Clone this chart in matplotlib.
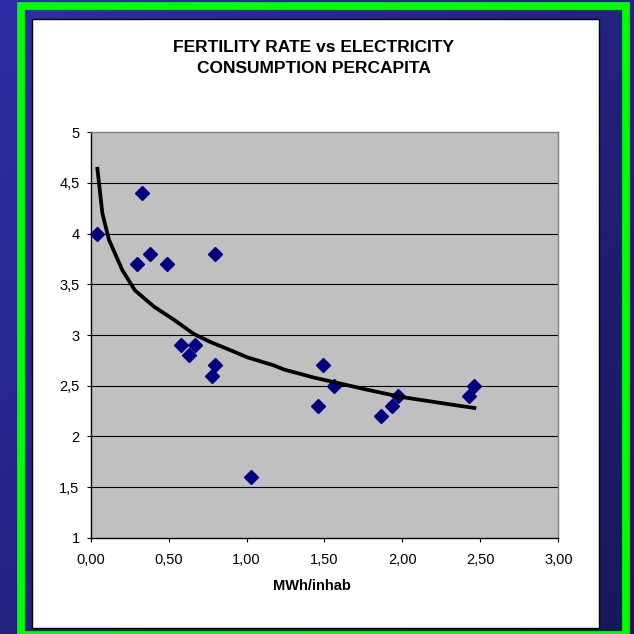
"""
Fertility rate vs electricity consumption per capita.
Run: python plot.py
Outputs: out.png
"""

import numpy as np
import matplotlib
matplotlib.use("Agg")
import matplotlib.pyplot as plt
from matplotlib.patches import Rectangle

# ---------------------------------------------------------------------------
# Data
# ---------------------------------------------------------------------------
mwh_per_inhab = [0.04, 0.30, 0.33, 0.38, 0.49, 0.58, 0.63, 0.67, 0.78, 0.80,
                 0.80, 1.03, 1.46, 1.49, 1.56, 1.86, 1.93, 1.97, 2.43, 2.46]
fertility = [4.0, 3.7, 4.4, 3.8, 3.7, 2.9, 2.8, 2.9, 2.6, 2.7,
             3.8, 1.6, 2.3, 2.7, 2.5, 2.2, 2.3, 2.4, 2.4, 2.5]

trend_x = [0.043, 0.075, 0.117, 0.203, 0.284, 0.406, 0.534, 0.662, 0.769, 0.897,
           1.004, 1.175, 1.239, 1.432, 1.603, 1.774, 1.987, 2.158, 2.329, 2.462]
trend_y = [4.64, 4.20, 3.94, 3.64, 3.44, 3.28, 3.15, 3.01, 2.93, 2.85,
           2.78, 2.70, 2.66, 2.58, 2.52, 2.46, 2.39, 2.35, 2.31, 2.28]

xticks = [0.0, 0.5, 1.0, 1.5, 2.0, 2.5, 3.0]
xtick_labels = ["0,00", "0,50", "1,00", "1,50", "2,00", "2,50", "3,00"]
yticks = [1, 1.5, 2, 2.5, 3, 3.5, 4, 4.5, 5]
ytick_labels = ["1", "1,5", "2", "2,5", "3", "3,5", "4", "4,5", "5"]

TITLE = "FERTILITY RATE vs ELECTRICITY\nCONSUMPTION PERCAPITA"
XLABEL = "MWh/inhab"

# ---------------------------------------------------------------------------
# Layout (pixels of a 634x634 canvas)
# ---------------------------------------------------------------------------
W = H = 634
plt.rcParams["font.family"] = ["Liberation Sans", "DejaVu Sans"]


def fx(px):
    return px / W


def fy(py):
    return 1 - py / H


fig = plt.figure(figsize=(W / 100, H / 100), dpi=100)

# --- blue gradient background ---
bg = fig.add_axes([0, 0, 1, 1], zorder=-10)
gx, gy = np.meshgrid(np.linspace(0, 1, 200), np.linspace(0, 1, 200))
t = (gx + gy) / 2
c0 = np.array([0x2E, 0x2E, 0xA8]) / 255
c1 = np.array([0x18, 0x18, 0x58]) / 255
grad = c0[None, None, :] * (1 - t[..., None]) + c1[None, None, :] * t[..., None]
bg.imshow(grad, extent=[0, 1, 0, 1], aspect="auto", origin="upper")
bg.set_axis_off()

# green frame
fig.patches.append(Rectangle((fx(20.5), fy(634.5)), fx(626) - fx(20.5), fy(5.5) - fy(634.5),
                             transform=fig.transFigure, fill=False,
                             edgecolor="#00FF00", linewidth=5.6, zorder=-5))
# white chart panel
fig.patches.append(Rectangle((fx(32), fy(628)), fx(599) - fx(32), fy(19) - fy(628),
                             transform=fig.transFigure, facecolor="white",
                             edgecolor="black", linewidth=1.0, zorder=-4))

# --- plot area ---
left, right, top, bottom = 90.7, 558.3, 132.3, 537.7
ax = fig.add_axes([fx(left), fy(bottom), fx(right) - fx(left), fy(top) - fy(bottom)])
ax.set_facecolor("#C0C0C0")
ax.set_xlim(0, 3)
ax.set_ylim(1, 5)

for yv in yticks[1:-1]:
    ax.axhline(yv, color="black", linewidth=0.8, zorder=1)

ax.plot(mwh_per_inhab, fertility, linestyle="none", marker="D", markersize=7.5,
        color="#000080", zorder=3, clip_on=False)
ax.plot(trend_x, trend_y, color="black", linewidth=2.7, zorder=4)

ax.set_xticks(xticks)
ax.set_xticklabels(xtick_labels)
ax.set_yticks(yticks)
ax.set_yticklabels(ytick_labels)
ax.tick_params(axis="both", direction="out", length=3, width=0.8, color="black",
               labelsize=10.5, labelcolor="black")
ax.tick_params(axis="x", pad=8)
ax.tick_params(axis="y", pad=5)

for side in ("left", "bottom"):
    ax.spines[side].set_color("black")
    ax.spines[side].set_linewidth(1.0)
for side in ("top", "right"):
    ax.spines[side].set_color("#808080")
    ax.spines[side].set_linewidth(1.0)

fig.text(fx(313.5), fy(58), TITLE, ha="center", va="center", fontsize=12.5,
         fontweight="bold", linespacing=1.45)
fig.text(fx(312), fy(586), XLABEL, ha="center", va="center", fontsize=10.5,
         fontweight="bold")

fig.savefig("out.png", dpi=100)
